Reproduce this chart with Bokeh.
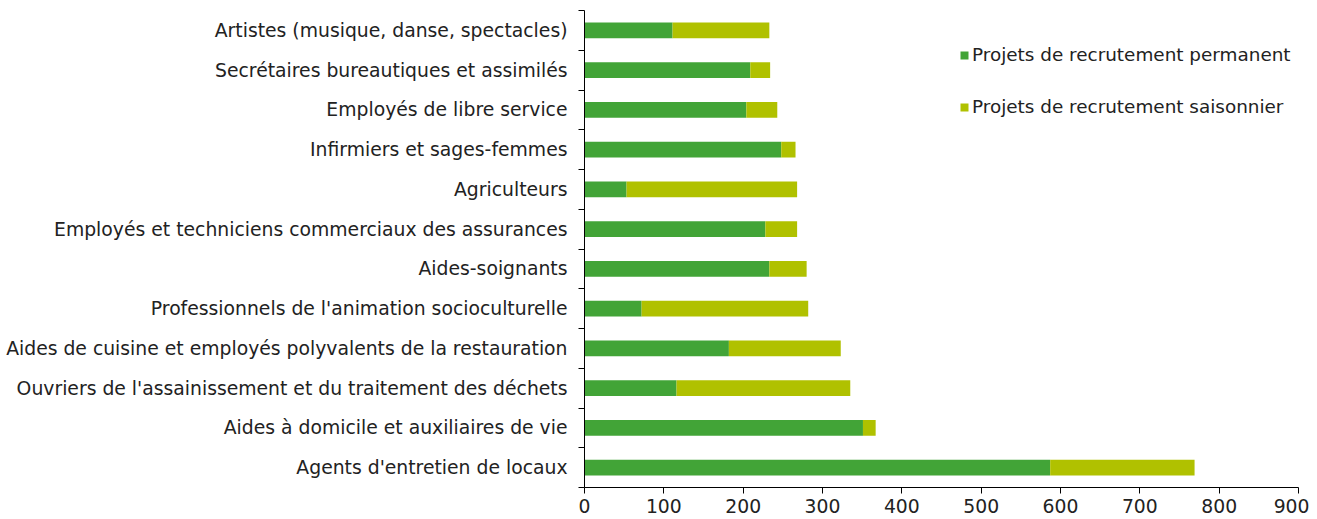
from bokeh.plotting import figure
from bokeh.models import ColumnDataSource, FixedTicker, Legend, LegendItem
from bokeh.embed import file_html
from bokeh.resources import INLINE

# bottom to top
categories = [
    "Agents d'entretien de locaux",
    "Aides à domicile et auxiliaires de vie",
    "Ouvriers de l'assainissement et du traitement des déchets",
    "Aides de cuisine et employés polyvalents de la restauration",
    "Professionnels de l'animation socioculturelle",
    "Aides-soignants",
    "Employés et techniciens commerciaux des assurances",
    "Agriculteurs",
    "Infirmiers et sages-femmes",
    "Employés de libre service",
    "Secrétaires bureautiques et assimilés",
    "Artistes (musique, danse, spectacles)",
]
permanent = [587, 351, 116, 182, 72, 233, 228, 53, 248, 204, 209, 111]
saisonnier = [182, 16, 219, 141, 210, 47, 40, 215, 18, 39, 25, 122]
series_names = ["Projets de recrutement permanent", "Projets de recrutement saisonnier"]
colors = ["#42A437", "#B0C100"]
x_ticks = [0, 100, 200, 300, 400, 500, 600, 700, 800, 900]

ypos = [i + 0.5 for i in range(len(categories))]
src = ColumnDataSource(dict(y=ypos, perm=permanent, seas=saisonnier))

FONT = "DejaVu Sans"
FS = "18.8px"

p = figure(width=1309, height=518, output_backend="svg", toolbar_location=None,
           x_range=(0, 900), y_range=(0, len(categories)),
           min_border_left=584, min_border_right=11, min_border_top=10, min_border_bottom=31)
p.outline_line_color = None
p.grid.grid_line_color = None
p.background_fill_color = "white"

renderers = p.hbar_stack(["perm", "seas"], y="y", height=0.4, color=colors,
                         line_color=None, source=src)

# x axis
xa = p.xaxis[0]
xa.ticker = FixedTicker(ticks=x_ticks)
xa.minor_tick_line_color = None
xa.major_tick_in = 0
xa.major_tick_out = 6
xa.major_tick_line_color = "black"
xa.axis_line_color = "black"
xa.major_label_text_font = FONT
xa.major_label_text_font_size = FS
xa.major_label_text_color = "#222222"
xa.major_label_standoff = 5

# y axis: labels at centres, ticks at boundaries
ya = p.yaxis[0]
ya.ticker = FixedTicker(ticks=ypos, minor_ticks=list(range(len(categories) + 1)))
ya.major_label_overrides = {y: c for y, c in zip(ypos, categories)}
ya.major_tick_in = 0
ya.major_tick_out = 0
ya.minor_tick_in = 0
ya.minor_tick_out = 6
ya.minor_tick_line_color = "black"
ya.axis_line_color = "black"
ya.major_label_text_font = FONT
ya.major_label_text_font_size = FS
ya.major_label_text_color = "#222222"
ya.major_label_standoff = 11

legend = Legend(items=[LegendItem(label=series_names[0], renderers=[renderers[0]]),
                       LegendItem(label=series_names[1], renderers=[renderers[1]])],
                location=(375, 370), orientation="vertical")
legend.border_line_color = None
legend.background_fill_alpha = 0
legend.label_text_font = FONT
legend.label_text_font_size = "18.4px"
legend.label_text_color = "#222222"
legend.glyph_width = 10
legend.glyph_height = 10
legend.label_standoff = 3
legend.spacing = 31
legend.padding = 0
legend.margin = 0
p.add_layout(legend, "center")

open("out.html", "w").write(file_html(p, INLINE))
